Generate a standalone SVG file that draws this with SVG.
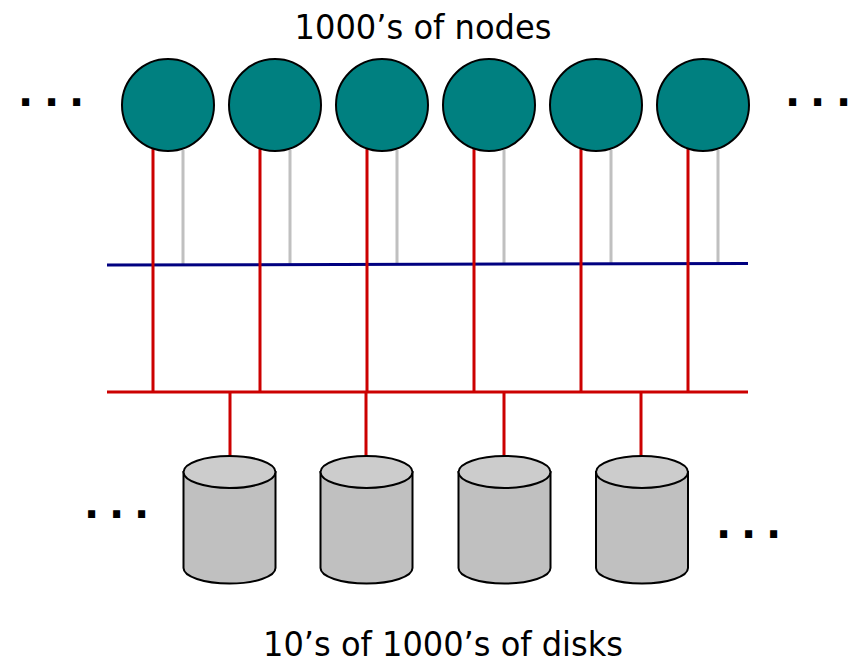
<svg xmlns="http://www.w3.org/2000/svg" width="850" height="664" viewBox="0 0 850 664">
  <style>
    .label { font-family: "DejaVu Sans", Verdana, sans-serif; font-size: 33px; fill: #000; }
    .dots { font-family: "DejaVu Sans", sans-serif; font-weight: bold; font-size: 40px; fill: #000; }
    .node { fill: #008080; stroke: #000; stroke-width: 2; }
    .disk-body { fill: #c0c0c0; stroke: #000; stroke-width: 2; }
    .disk-top { fill: #cccccc; stroke: #000; stroke-width: 2; }
    .red { stroke: #cc0000; stroke-width: 3; fill: none; }
    .grey { stroke: #c0c0c0; stroke-width: 3; fill: none; }
    .blue { stroke: #000080; stroke-width: 3; fill: none; }
  </style>

  <!-- wiring: node links, two buses, disk drops -->
  <g id="connectors">
    <!-- grey links from nodes to the upper (blue) network -->
    <path class="grey" d="M183 150V264 M290 150V264 M397 150V264 M504 150V264 M611 150V264 M718 150V264"/>
    <!-- upper network -->
    <line class="blue" x1="107" y1="265" x2="748" y2="263.5"/>
    <!-- red links from nodes down to the storage bus -->
    <path class="red" d="M153 148V392 M260 148V392 M367 148V392 M474 148V392 M581 148V392 M688 148V392"/>
    <!-- storage bus -->
    <line class="red" x1="107" y1="392" x2="748" y2="392"/>
    <!-- drops to disks -->
    <path class="red" d="M230 392V457 M366 392V457 M504 392V457 M641 392V457"/>
  </g>

  <!-- compute nodes -->
  <g id="node1"><circle class="node" cx="168" cy="105" r="46"/></g>
  <g id="node2"><circle class="node" cx="275" cy="105" r="46"/></g>
  <g id="node3"><circle class="node" cx="382" cy="105" r="46"/></g>
  <g id="node4"><circle class="node" cx="489" cy="105" r="46"/></g>
  <g id="node5"><circle class="node" cx="596" cy="105" r="46"/></g>
  <g id="node6"><circle class="node" cx="703" cy="105" r="46"/></g>

  <!-- disks -->
  <defs>
    <g id="cyl">
      <path class="disk-body" d="M-46 472V568A46 15.5 0 0 0 46 568V472Z"/>
      <ellipse class="disk-top" cx="0" cy="472" rx="46" ry="16"/>
    </g>
  </defs>
  <g id="disk1"><use href="#cyl" x="229.5"/></g>
  <g id="disk2"><use href="#cyl" x="366.5"/></g>
  <g id="disk3"><use href="#cyl" x="504.5"/></g>
  <g id="disk4"><use href="#cyl" x="642"/></g>

  <!-- ellipses marking more nodes / disks -->
  <text class="dots" x="18 44 69" y="106">...</text>
  <text class="dots" x="785 810 836" y="106">...</text>
  <text class="dots" x="84 109 134" y="518">...</text>
  <text class="dots" x="716 741 766" y="538">...</text>

  <!-- captions -->
  <text class="label" x="423" y="39" text-anchor="middle" textLength="257" lengthAdjust="spacingAndGlyphs">1000’s of nodes</text>
  <text class="label" x="443" y="656" text-anchor="middle" textLength="360" lengthAdjust="spacingAndGlyphs">10’s of 1000’s of disks</text>
</svg>
